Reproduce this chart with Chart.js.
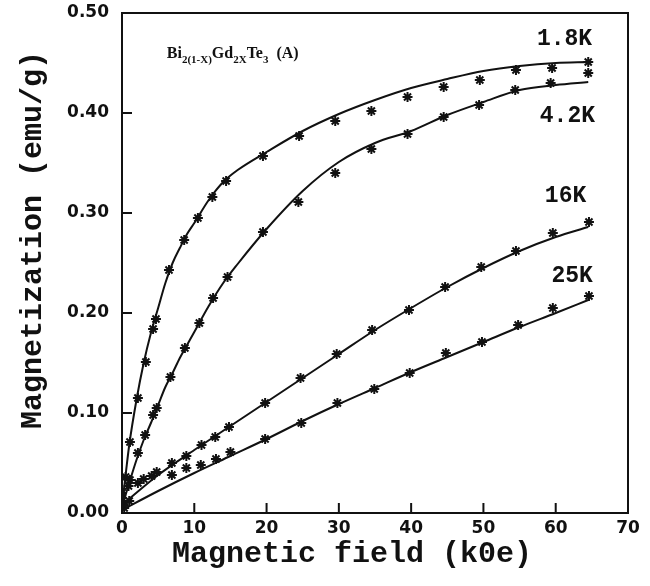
<!DOCTYPE html>
<html>
<head>
<meta charset="utf-8">
<script src="https://cdn.jsdelivr.net/npm/chart.js@4.4.1/dist/chart.umd.min.js"></script>
<style>
  html, body { margin: 0; padding: 0; background: #fff; }
  #wrap { width: 650px; height: 586px; }
</style>
</head>
<body>
<div id="wrap"><canvas id="chart"></canvas></div>
<script>
// axis ticks
const fieldTicks = [0, 10, 20, 30, 40, 50, 60, 70];
const magTicks = [0, 0.1, 0.2, 0.3, 0.4, 0.5];

// measured points (field kOe, magnetization emu/g)
const h18 = [0, 0.5, 1.1, 2.2, 3.3, 4.3, 4.7, 6.5, 8.6, 10.5, 12.5, 14.4, 19.5, 24.5, 29.5, 34.5, 39.5, 44.5, 49.5, 54.5, 59.5, 64.5];
const m18 = [0.015, 0.036, 0.071, 0.115, 0.151, 0.184, 0.194, 0.243, 0.273, 0.295, 0.316, 0.332, 0.357, 0.377, 0.392, 0.402, 0.416, 0.426, 0.433, 0.443, 0.445, 0.451];

const h42 = [0.2, 1.1, 2.2, 3.2, 4.3, 4.8, 6.7, 8.7, 10.7, 12.6, 14.6, 19.5, 24.4, 29.5, 34.5, 39.5, 44.5, 49.4, 54.4, 59.3, 64.5];
const m42 = [0.008, 0.033, 0.060, 0.078, 0.098, 0.105, 0.136, 0.165, 0.190, 0.215, 0.236, 0.281, 0.311, 0.340, 0.364, 0.379, 0.396, 0.408, 0.423, 0.430, 0.440];

const h16 = [0, 0.9, 2.2, 3.0, 4.1, 4.8, 6.9, 8.9, 11.0, 12.9, 14.8, 19.8, 24.7, 29.7, 34.6, 39.7, 44.7, 49.7, 54.5, 59.6, 64.6];
const m16 = [0.020, 0.027, 0.030, 0.034, 0.037, 0.041, 0.050, 0.057, 0.068, 0.076, 0.086, 0.110, 0.135, 0.159, 0.183, 0.203, 0.226, 0.246, 0.262, 0.280, 0.291];

const h25 = [0.3, 1.0, 6.9, 8.9, 10.9, 13.0, 15.0, 19.8, 24.8, 29.8, 34.9, 39.8, 44.8, 49.8, 54.8, 59.6, 64.6];
const m25 = [0.005, 0.012, 0.038, 0.045, 0.048, 0.054, 0.061, 0.074, 0.090, 0.110, 0.124, 0.140, 0.160, 0.171, 0.188, 0.205, 0.217];

// fitted curves
const fitH = [0, 0.5, 1, 2, 3, 4, 5, 6, 7, 8, 9, 10, 12, 14, 16, 20, 25, 30, 35, 40, 45, 50, 55, 60, 64.5];
const fit18 = [0.008, 0.038, 0.068, 0.113, 0.150, 0.180, 0.205, 0.230, 0.250, 0.265, 0.279, 0.290, 0.313, 0.331, 0.343, 0.361, 0.382, 0.399, 0.413, 0.425, 0.434, 0.442, 0.447, 0.450, 0.451];
const fit42 = [0.005, 0.018, 0.030, 0.053, 0.073, 0.090, 0.108, 0.126, 0.140, 0.155, 0.168, 0.181, 0.207, 0.230, 0.249, 0.284, 0.322, 0.351, 0.370, 0.382, 0.398, 0.411, 0.423, 0.428, 0.431];

const fitH2 = [0, 5, 10, 15, 20, 25, 30, 35, 40, 45, 50, 55, 60, 64.5];
const fit16 = [0.008, 0.038, 0.063, 0.087, 0.111, 0.135, 0.159, 0.183, 0.205, 0.226, 0.245, 0.262, 0.276, 0.286];
const fit25 = [0.003, 0.022, 0.040, 0.057, 0.074, 0.092, 0.109, 0.125, 0.141, 0.156, 0.171, 0.186, 0.200, 0.213];

const tempLabels = ['1.8K', '4.2K', '16K', '25K'];

const ink = '#111';
const pts = (xs, ys) => xs.map((v, i) => ({ x: v, y: ys[i] }));

const stars = (xs, ys) => ({
  data: pts(xs, ys),
  showLine: false,
  pointStyle: 'star',
  pointRadius: 5,
  pointBorderWidth: 2,
  pointBorderColor: ink,
  pointBackgroundColor: ink,
});

const curve = (xs, ys) => ({
  data: pts(xs, ys),
  showLine: true,
  borderColor: ink,
  borderWidth: 2,
  pointRadius: 0,
  cubicInterpolationMode: 'monotone',
});

// frame, inward ticks, titles and text labels
const decor = {
  id: 'decor',
  afterDraw(chart) {
    const { ctx, chartArea: a, scales: { x, y } } = chart;
    ctx.save();
    ctx.strokeStyle = ink;
    ctx.lineWidth = 2;
    ctx.strokeRect(a.left, a.top, a.width, a.height);

    ctx.beginPath();
    fieldTicks.forEach(v => {
      const px = x.getPixelForValue(v);
      ctx.moveTo(px, a.bottom);
      ctx.lineTo(px, a.bottom - 10);
    });
    magTicks.forEach(v => {
      const py = y.getPixelForValue(v);
      ctx.moveTo(a.left, py);
      ctx.lineTo(a.left + 10, py);
    });
    ctx.stroke();

    ctx.fillStyle = ink;
    ctx.font = 'bold 30px "Liberation Mono"';
    ctx.textAlign = 'center';
    ctx.textBaseline = 'middle';
    ctx.fillText('Magnetic field (k0e)', 352, 554);

    ctx.save();
    ctx.translate(33, 240);
    ctx.rotate(-Math.PI / 2);
    ctx.fillText('Magnetization (emu/g)', 0, 0);
    ctx.restore();

    // temperature labels
    ctx.font = 'bold 23px "Liberation Mono"';
    ctx.textAlign = 'left';
    ctx.textBaseline = 'alphabetic';
    const spots = [[57.4, 0.468], [57.8, 0.391], [58.5, 0.311], [59.4, 0.231]];
    tempLabels.forEach((t, i) => {
      ctx.fillText(t, x.getPixelForValue(spots[i][0]), y.getPixelForValue(spots[i][1]));
    });

    // compound formula with subscripts
    let cx = x.getPixelForValue(6.2);
    const by = y.getPixelForValue(0.455);
    const parts = [['Bi', 0], ['2(1-X)', 1], ['Gd', 0], ['2X', 1], ['Te', 0], ['3', 1], ['  (A)', 0]];
    parts.forEach(([s, sub]) => {
      ctx.font = sub ? 'bold 11px "Liberation Serif"' : 'bold 16px "Liberation Serif"';
      ctx.fillText(s, cx, sub ? by + 5 : by);
      cx += ctx.measureText(s).width;
    });
    ctx.restore();
  }
};

new Chart(document.getElementById('chart'), {
  type: 'scatter',
  data: {
    datasets: [
      curve(fitH, fit18),
      curve(fitH, fit42),
      curve(fitH2, fit16),
      curve(fitH2, fit25),
      stars(h18, m18),
      stars(h42, m42),
      stars(h16, m16),
      stars(h25, m25),
    ],
  },
  options: {
    responsive: true,
    maintainAspectRatio: false,
    animation: false,
    layout: { padding: { top: 13, right: 22, left: 0, bottom: 0 } },
    plugins: {
      legend: { display: false },
      tooltip: { enabled: false },
    },
    scales: {
      x: {
        type: 'linear',
        min: 0,
        max: 70,
        afterFit: s => { s.height = 73; s.paddingLeft = 0; s.paddingRight = 0; },
        afterBuildTicks: s => { s.ticks = fieldTicks.map(v => ({ value: v })); },
        grid: { drawOnChartArea: false, drawTicks: false },
        border: { display: false },
        ticks: {
          padding: 5,
          color: ink,
          font: { family: 'DejaVu Sans', weight: 'bold', size: 17 },
        },
      },
      y: {
        type: 'linear',
        min: 0,
        max: 0.5,
        afterFit: s => { s.width = 122; s.paddingTop = 0; s.paddingBottom = 0; },
        afterBuildTicks: s => { s.ticks = magTicks.map(v => ({ value: v })); },
        grid: { drawOnChartArea: false, drawTicks: false },
        border: { display: false },
        ticks: {
          padding: 13,
          color: ink,
          font: { family: 'DejaVu Sans', weight: 'bold', size: 17 },
          callback: v => v.toFixed(2),
        },
      },
    },
  },
  plugins: [decor],
});
</script>
</body>
</html>
